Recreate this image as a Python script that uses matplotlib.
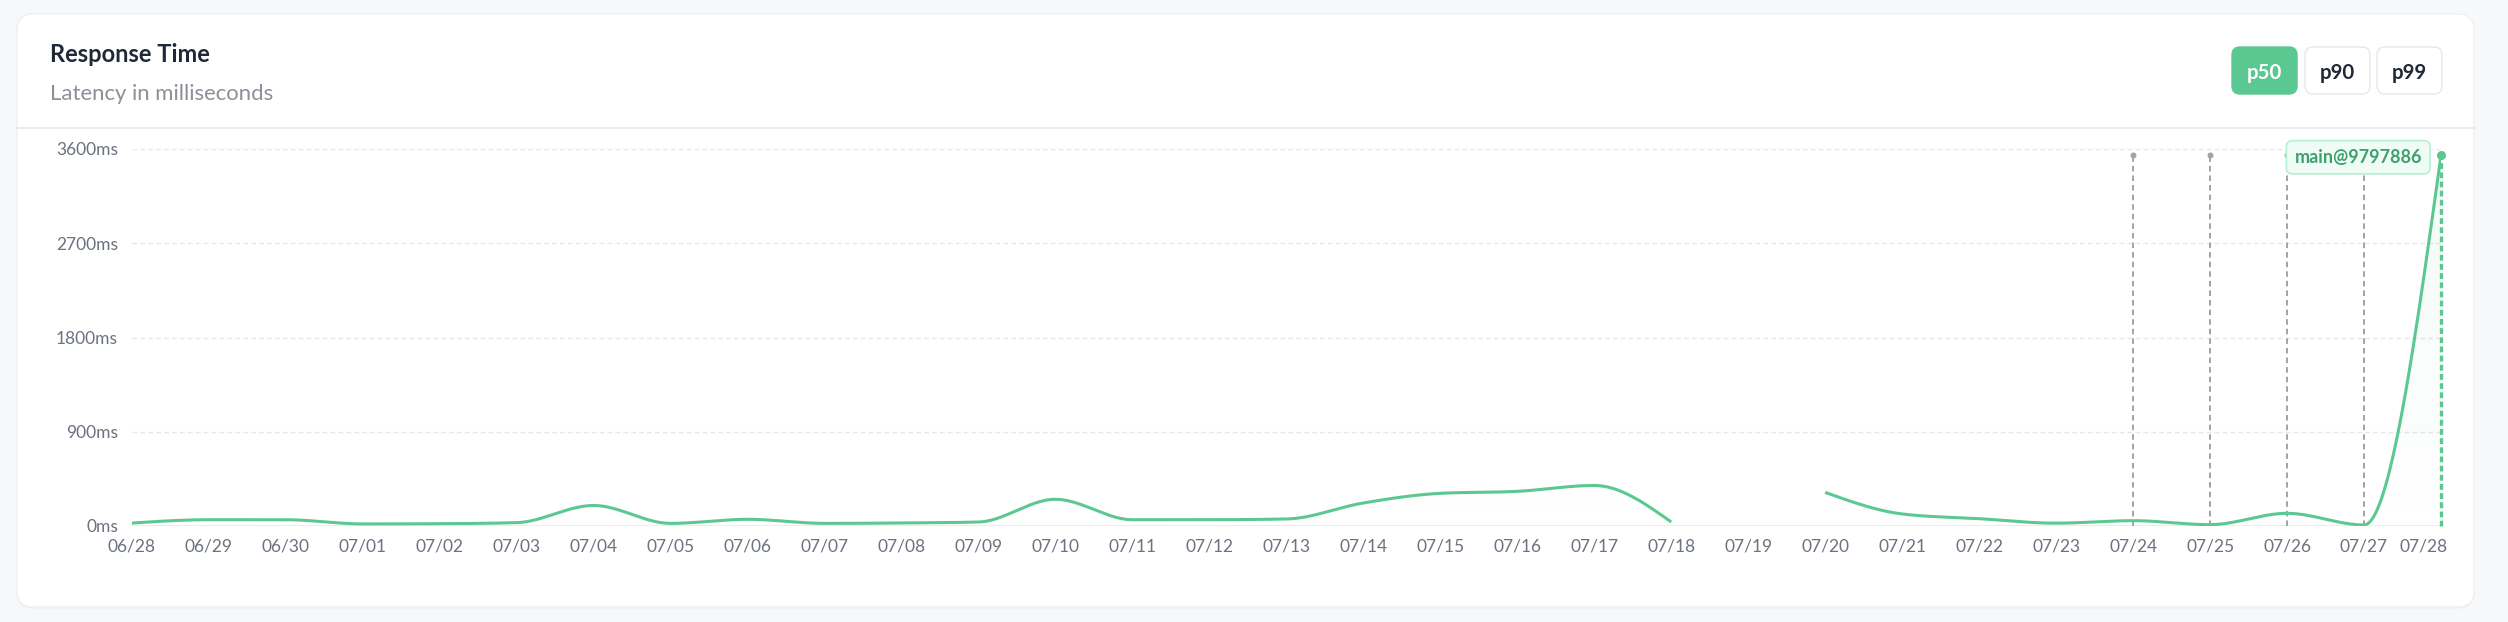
#!/usr/bin/env python3
"""
Response time card: p50 latency per day with commit markers.
"""

import numpy as np
import matplotlib
matplotlib.use("Agg")
import matplotlib.pyplot as plt
import matplotlib.patches as mpatches
from matplotlib.colors import to_rgb
from matplotlib.transforms import ScaledTranslation

plt.rcParams['font.family'] = ['Lato', 'DejaVu Sans']
plt.rcParams['lines.scale_dashes'] = False

# === Data ===
dates = ['06/28', '06/29', '06/30', '07/01', '07/02', '07/03', '07/04', '07/05',
         '07/06', '07/07', '07/08', '07/09', '07/10', '07/11', '07/12', '07/13',
         '07/14', '07/15', '07/16', '07/17', '07/18', '07/19', '07/20', '07/21',
         '07/22', '07/23', '07/24', '07/25', '07/26', '07/27', '07/28']
p50_ms = [28, 60, 60, 20, 22, 32, 196, 25,
          64, 25, 29, 38, 255, 60, 60, 67,
          220, 312, 331, 387, 38, None, 321, 115,
          70, 27, 51, 13, 121, 10, 3540]
commit_dates = ['07/24', '07/25', '07/26', '07/27']
latest_commit = 'main@9797886'
y_ticks = [0, 900, 1800, 2700, 3600]
percentiles = ['p50', 'p90', 'p99']
active_percentile = 'p50'

# === Style ===
W, H = 2508, 622
GREEN = '#5cc891'
GRID = '#e5e7eb'
TICK = '#6b7280'
MARK = '#9ea3ad'


def monotone_x(xs, ys, n=40):
    """Monotone cubic interpolation (same shape as d3 curveMonotoneX)."""
    xs = np.asarray(xs, float)
    ys = np.asarray(ys, float)
    if len(xs) < 3:
        return xs, ys
    h = np.diff(xs)
    s = np.diff(ys) / h
    t = np.zeros(len(xs))
    for i in range(1, len(xs) - 1):
        h0, h1, s0, s1 = h[i - 1], h[i], s[i - 1], s[i]
        p = (s0 * h1 + s1 * h0) / (h0 + h1)
        sg = (1 if s0 >= 0 else -1) + (1 if s1 >= 0 else -1)
        t[i] = sg * min(abs(s0), abs(s1), 0.5 * abs(p))
    t[0] = (3 * s[0] - t[1]) / 2
    t[-1] = (3 * s[-1] - t[-2]) / 2
    out_x, out_y = [], []
    for i in range(len(xs) - 1):
        u = np.linspace(0, 1, n, endpoint=(i == len(xs) - 2))
        h00 = 2 * u**3 - 3 * u**2 + 1
        h10 = u**3 - 2 * u**2 + u
        h01 = -2 * u**3 + 3 * u**2
        h11 = u**3 - u**2
        out_x.append(xs[i] + u * h[i])
        out_y.append(h00 * ys[i] + h10 * h[i] * t[i] + h01 * ys[i + 1] + h11 * h[i] * t[i + 1])
    return np.concatenate(out_x), np.concatenate(out_y)


def split_runs(values):
    """Split series into continuous runs, skipping missing days."""
    runs, cur = [], []
    for i, v in enumerate(values):
        if v is None:
            if cur:
                runs.append(cur)
            cur = []
        else:
            cur.append((i, v))
    if cur:
        runs.append(cur)
    return runs


def create_chart():
    fig = plt.figure(figsize=(W / 100, H / 100), dpi=100)
    fig.patch.set_facecolor('#f7f8fa')

    # --- Card background (pixel coordinates) ---
    bg = fig.add_axes([0, 0, 1, 1])
    bg.set_xlim(0, W)
    bg.set_ylim(H, 0)
    bg.axis('off')

    shadow = mpatches.FancyBboxPatch((17, 15.5), 2457, 593,
                                     boxstyle="round,pad=0,rounding_size=16",
                                     facecolor='#eceef2', edgecolor='none')
    bg.add_patch(shadow)
    card = mpatches.FancyBboxPatch((17, 14), 2457, 593,
                                   boxstyle="round,pad=0,rounding_size=16",
                                   facecolor='white', edgecolor='#eef0f3', linewidth=1)
    bg.add_patch(card)
    bg.plot([17, 2474], [127.5, 127.5], color=GRID, lw=1.2)

    bg.text(50, 62, 'Response Time', fontsize=17, fontweight='bold',
            color='#1f2937', ha='left', va='baseline')
    bg.text(50, 100, 'Latency in milliseconds', fontsize=15.9,
            color='#8c9099', ha='left', va='baseline')

    # Percentile buttons
    btn_x = [2232, 2305, 2377]
    for name, x in zip(percentiles, btn_x):
        active = name == active_percentile
        btn = mpatches.FancyBboxPatch((x, 47), 65, 47,
                                      boxstyle="round,pad=0,rounding_size=8",
                                      facecolor=GREEN if active else 'white',
                                      edgecolor=GREEN if active else '#e6e8eb',
                                      linewidth=1)
        bg.add_patch(btn)
        bg.text(x + 32.5, 79, name, fontsize=14.7, fontweight='bold',
                color='white' if active else '#1f2937', ha='center', va='baseline')

    # --- Plot area ---
    x0, x1 = 131.7, 2441
    y0, y1 = 526, 149
    ax = fig.add_axes([x0 / W, 1 - y0 / H, (x1 - x0) / W, (y0 - y1) / H])
    ax.patch.set_alpha(0)
    for sp in ax.spines.values():
        sp.set_visible(False)

    for v in y_ticks:
        if v == 0:
            ax.axhline(v, color=GRID, lw=1.1, zorder=1)
        else:
            ax.axhline(v, color=GRID, lw=1.0, ls=(0, (3.4, 2.3)), zorder=1)

    # Gradient used under the curve (fades out toward the baseline)
    r, g, b = to_rgb(GREEN)
    grad = np.zeros((256, 1, 4))
    grad[..., 0], grad[..., 1], grad[..., 2] = r, g, b
    grad[:, 0, 3] = np.linspace(0, 0.08, 256)

    # Latency curve
    for run in split_runs(p50_ms):
        xs = [q[0] for q in run]
        ys = [q[1] for q in run]
        cx, cy = monotone_x(xs, ys)
        area = ax.fill_between(cx, 0, cy, facecolor='none', edgecolor='none')
        im = ax.imshow(grad, extent=[0, len(dates) - 1, 0, y_ticks[-1]],
                       origin='lower', aspect='auto', interpolation='bilinear', zorder=2)
        im.set_clip_path(area.get_paths()[0], transform=ax.transData)
        ax.plot(cx, cy, color=GREEN, lw=2.2, solid_capstyle='butt', zorder=4)

    ax.set_xlim(0, len(dates) - 1)
    ax.set_ylim(0, y_ticks[-1])
    ax.set_yticks(y_ticks)
    ax.set_yticklabels([f'{v}ms' for v in y_ticks])
    ax.set_xticks(range(len(dates)))
    ax.set_xticklabels(dates)
    ax.tick_params(axis='y', length=0, pad=9.9, labelsize=12.5, labelcolor=TICK)
    ax.tick_params(axis='x', length=0, pad=9, labelsize=12.5, labelcolor=TICK)

    last_lbl = ax.get_xticklabels()[-1]
    last_lbl.set_horizontalalignment('right')
    last_lbl.set_transform(last_lbl.get_transform()
                           + ScaledTranslation(7 / 100, 0, fig.dpi_scale_trans))

    # Commit markers
    top = max(v for v in p50_ms if v is not None)
    for d in commit_dates:
        i = dates.index(d)
        ax.plot([i, i], [0, top], color=MARK, lw=1.4, ls=(0, (4.0, 2.9)), zorder=3)
        ax.plot(i, top, 'o', ms=4.3, color=MARK, mec='none', zorder=3)

    last = len(dates) - 1
    ax.plot([last, last], [0, top], color=GREEN, lw=2.4, ls=(0, (4.2, 2.4)),
            zorder=3, clip_on=False)
    ax.plot(last, top, 'o', ms=6.5, color=GREEN, mec='none', zorder=5, clip_on=False)

    ax.annotate(latest_commit, xy=(last, top), xytext=(-19, -2),
                textcoords='offset pixels', ha='right', va='center',
                fontsize=13, fontweight='bold', color='#3f9f6f', zorder=6,
                bbox=dict(boxstyle='round,pad=0.45,rounding_size=0.35',
                          facecolor='#effcf5', edgecolor='#b5f0d1', linewidth=1.2))

    fig.savefig('out.png', dpi=100, facecolor=fig.get_facecolor())
    plt.close(fig)


if __name__ == "__main__":
    create_chart()
